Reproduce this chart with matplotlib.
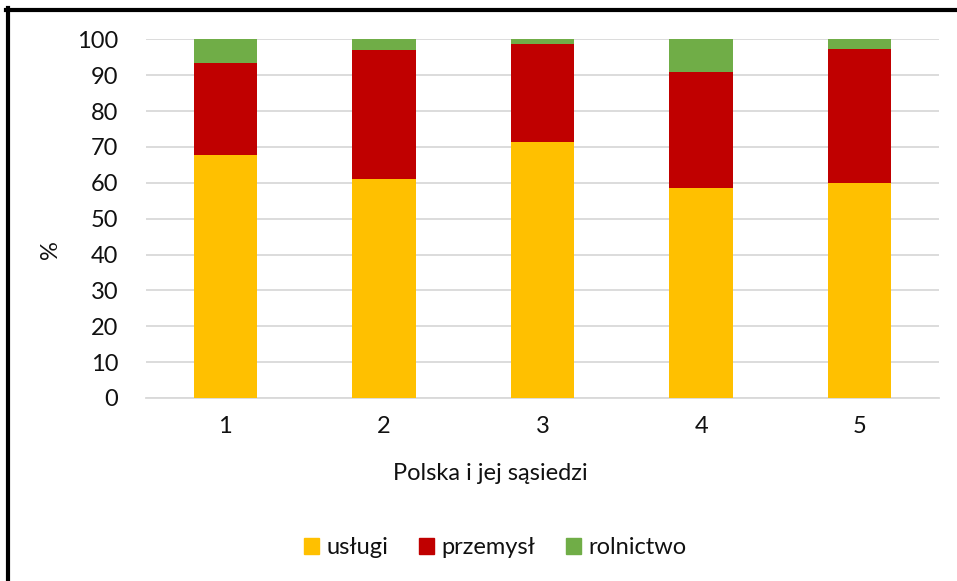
import numpy as np
import matplotlib.pyplot as plt
from matplotlib.lines import Line2D
from matplotlib.patches import Patch

plt.rcParams['font.family'] = ['Lato', 'DejaVu Sans']

categories = ['1', '2', '3', '4', '5']
uslugi = [67.8, 61.0, 71.5, 58.6, 60.0]
przemysl = [25.6, 36.1, 27.3, 32.2, 37.3]
rolnictwo = [6.6, 2.9, 1.2, 9.2, 2.7]
series_names = ['usługi', 'przemysł', 'rolnictwo']
colors = ['#FFC000', '#C00000', '#70AD47']
yticks = [0, 10, 20, 30, 40, 50, 60, 70, 80, 90, 100]

W, H = 957, 581
fig = plt.figure(figsize=(W / 100, H / 100), dpi=100)
ax = fig.add_axes([146 / W, 1 - 398 / H, (939 - 146) / W, (398 - 39.3) / H])

x = np.arange(len(categories))
bottom = np.zeros(len(categories))
for vals, c, name in zip([uslugi, przemysl, rolnictwo], colors, series_names):
    ax.bar(x, vals, width=0.4, bottom=bottom, color=c, label=name, zorder=3)
    bottom += np.array(vals)

ax.set_xlim(-0.5, len(categories) - 0.5)
ax.set_ylim(0, 100)
ax.set_yticks(yticks)
ax.set_xticks(x)
ax.set_xticklabels(categories)
ax.yaxis.grid(True, color='#d9d9d9', linewidth=1.3, zorder=0)
ax.set_axisbelow(True)
for s in ['top', 'right', 'left']:
    ax.spines[s].set_visible(False)
ax.spines['bottom'].set_color('#d9d9d9')
ax.spines['bottom'].set_linewidth(1.3)
ax.tick_params(length=0, labelsize=17, colors='#111111')
ax.tick_params(axis='x', pad=13)
ax.tick_params(axis='y', pad=20)

fig.text(50 / W, 1 - 250 / H, '%', rotation=90, ha='center', va='center', fontsize=17, color='#111111')
fig.text(490 / W, 1 - 474 / H, 'Polska i jej sąsiedzi', ha='center', va='center', fontsize=17, color='#111111')

handles = [Patch(color=c) for c in colors]
fig.legend(handles, series_names, loc='center', bbox_to_anchor=(495 / W, 1 - 548 / H),
           ncol=3, frameon=False, fontsize=17, handlelength=0.65, handleheight=0.65,
           handletextpad=0.3, columnspacing=1.3, labelcolor='#111111')

# black frame on top and left edge
fig.add_artist(Line2D([6 / W, 1], [1 - 10 / H, 1 - 10 / H], color='black', linewidth=3, transform=fig.transFigure))
fig.add_artist(Line2D([8 / W, 8 / W], [0, 1 - 8 / H], color='black', linewidth=3, transform=fig.transFigure))

fig.savefig('out.png', dpi=100)
